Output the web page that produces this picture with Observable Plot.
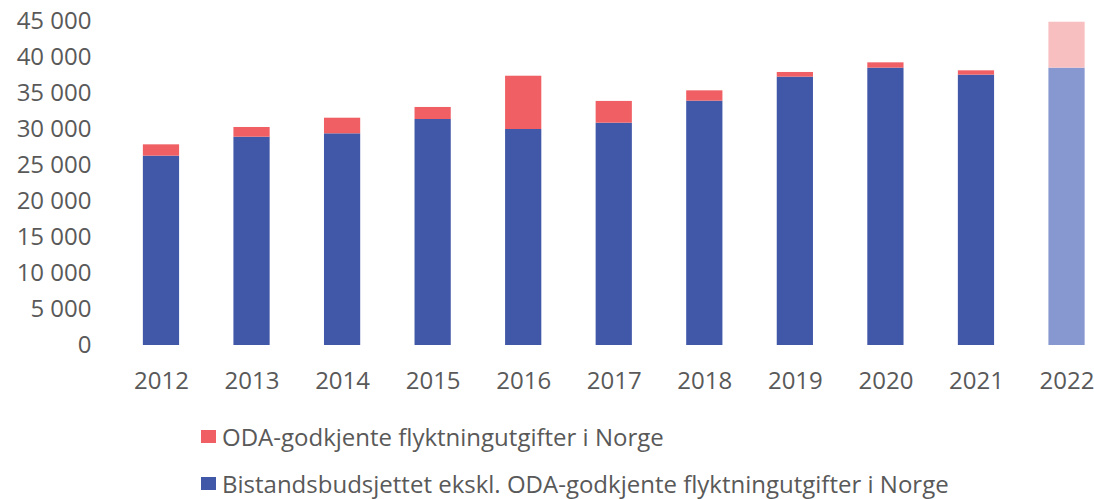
<!DOCTYPE html>
<html>
<head>
<meta charset="utf-8">
<script src="https://cdn.jsdelivr.net/npm/d3@7"></script>
<script src="https://cdn.jsdelivr.net/npm/@observablehq/plot@0.6"></script>
<style>
  body { margin: 0; background: #fff; font-family: "Open Sans", sans-serif; }
  #chart { width: 1094px; }
  .legend { position: relative; height: 99px; }
  .item { position: absolute; left: 201px; height: 30px; line-height: 30px; display: flex; align-items: center; font-size: 24px; color: #595959; white-space: nowrap; }
  .sw { width: 14.5px; height: 13.5px; margin-right: 6.5px; display: inline-block; flex: none; }
</style>
</head>
<body>
<div id="chart"></div>
<script>
const years = ["2012","2013","2014","2015","2016","2017","2018","2019","2020","2021","2022"];
const baseValues = [26300, 28930, 29400, 31390, 30000, 30880, 33940, 37270, 38520, 37550, 38520];
const refugeeValues = [1570, 1350, 2170, 1670, 7400, 3020, 1430, 650, 740, 600, 6380];
const projectedYears = ["2022"];
const seriesNames = ["Bistandsbudsjettet ekskl. ODA-godkjente flyktningutgifter i Norge", "ODA-godkjente flyktningutgifter i Norge"];
const yTicks = [0, 5000, 10000, 15000, 20000, 25000, 30000, 35000, 40000, 45000];

const rows = [];
years.forEach((y, i) => {
  const proj = projectedYears.includes(y);
  rows.push({year: y, series: seriesNames[0], value: baseValues[i], key: (proj ? "p" : "a") + "0"});
  rows.push({year: y, series: seriesNames[1], value: refugeeValues[i], key: (proj ? "p" : "a") + "1"});
});

const fmt = d => d3.format(",")(d).replace(/,/g, " ");

const chart = Plot.plot({
  width: 1094,
  height: 400,
  marginTop: 21,
  marginBottom: 55,
  marginLeft: 116,
  marginRight: 0,
  style: {fontFamily: "'Open Sans', sans-serif", fontSize: "24px", color: "#595959", background: "#fff"},
  x: {domain: years, range: [115.7, 1111.8], paddingInner: 0.6, paddingOuter: 0.3, round: false, label: null},
  y: {domain: [0, 45000], label: null},
  color: {domain: ["a0", "a1", "p0", "p1"], range: ["#4157a7", "#f05f64", "#8798d0", "#f8bfc1"]},
  marks: [
    Plot.gridY(yTicks, {stroke: "#d9d9d9", strokeOpacity: 1, strokeWidth: 1.5, x1: 115.7, x2: 1094}),
    Plot.barY(rows, Plot.stackY({x: "year", y: "value", fill: "key", order: seriesNames, z: "series"})),
    Plot.axisX({tickSize: 0, tickPadding: 26, fill: "#595959", fontSize: 24}),
    Plot.axisY(yTicks, {tickSize: 0, tickPadding: 25, tickFormat: fmt, fill: "#595959", fontSize: 24})
  ]
});
document.getElementById("chart").appendChild(chart);

const legend = document.createElement("div");
legend.className = "legend";
const legendItems = [
  {label: seriesNames[1], color: "#f05f64", center: 36.7},
  {label: seriesNames[0], color: "#4157a7", center: 83.7}
];
legendItems.forEach(it => {
  const d = document.createElement("div");
  d.className = "item";
  d.style.top = (it.center - 15) + "px";
  const sw = document.createElement("span");
  sw.className = "sw";
  sw.style.background = it.color;
  d.appendChild(sw);
  d.appendChild(document.createTextNode(it.label));
  legend.appendChild(d);
});
document.getElementById("chart").appendChild(legend);
</script>
</body>
</html>
